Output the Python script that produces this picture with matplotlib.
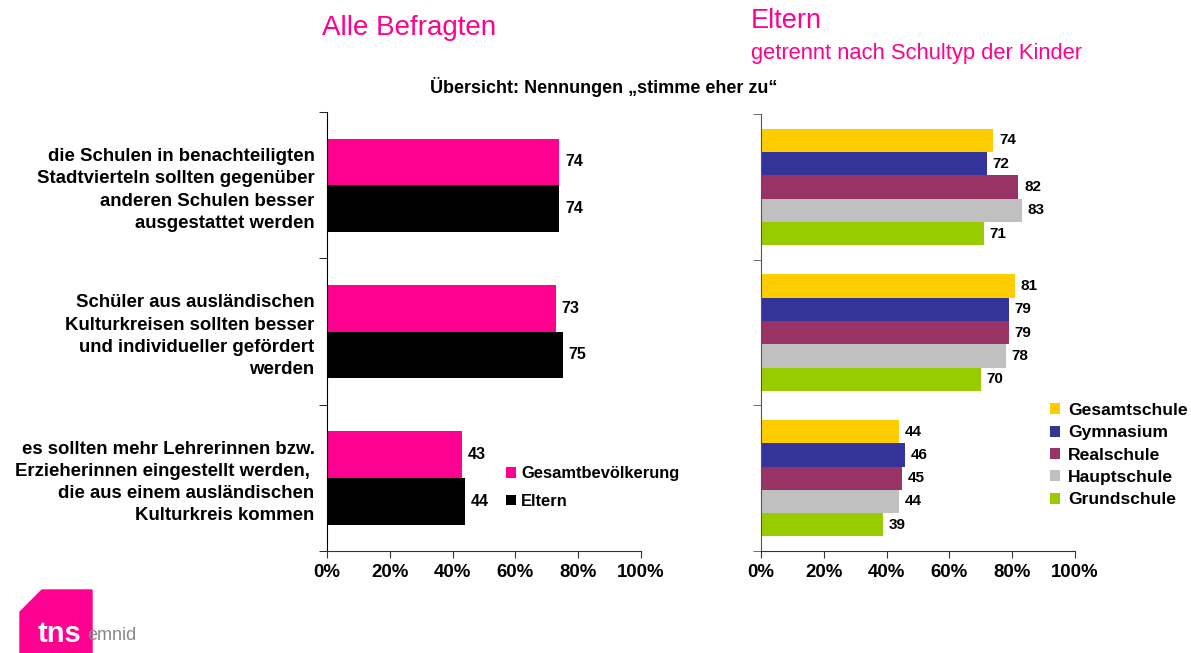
import matplotlib.pyplot as plt
import numpy as np
from matplotlib.patches import Polygon

plt.rcParams['font.family'] = ['Liberation Sans', 'DejaVu Sans']

statements = [
    "die Schulen in benachteiligten\nStadtvierteln sollten gegenüber\nanderen Schulen besser\nausgestattet werden",
    "Schüler aus ausländischen\nKulturkreisen sollten besser\nund individueller gefördert\nwerden",
    "es sollten mehr Lehrerinnen bzw.\nErzieherinnen eingestellt werden, \ndie aus einem ausländischen\nKulturkreis kommen",
]
left_series = ["Gesamtbevölkerung", "Eltern"]
gesamt = [74, 73, 43]
eltern = [74, 75, 44]

school_types = ["Gesamtschule", "Gymnasium", "Realschule", "Hauptschule", "Grundschule"]
gesamtschule = [74, 81, 44]
gymnasium = [72, 79, 46]
realschule = [82, 79, 45]
hauptschule = [83, 78, 44]
grundschule = [71, 70, 39]

xticks = [0, 20, 40, 60, 80, 100]
xticklabels = ["0%", "20%", "40%", "60%", "80%", "100%"]

pink = "#FF0090"
left_colors = [pink, "#000000"]
right_colors = ["#FFCC00", "#333399", "#993366", "#C0C0C0", "#99CC00"]

fig = plt.figure(figsize=(11.91, 6.53), dpi=100)
ax1 = fig.add_axes([0.2746, 0.1562, 0.2636, 0.672])
ax2 = fig.add_axes([0.639, 0.1562, 0.2636, 0.669])

centers = np.arange(len(statements)) + 0.5


def style_axis(ax, spine_color):
    ax.set_xlim(0, 100)
    ax.set_ylim(3, 0)
    for s in ["top", "right"]:
        ax.spines[s].set_visible(False)
    ax.spines["left"].set_color(spine_color)
    ax.spines["bottom"].set_color("#333333")
    ax.set_xticks(xticks)
    ax.set_xticklabels(xticklabels, fontsize=13.4, fontweight="bold")
    ax.tick_params(axis="x", length=5, pad=4, color="#333333")
    ax.set_yticks([0, 1, 2, 3], minor=True)
    ax.tick_params(axis="y", which="minor", length=6, color=spine_color)
    ax.set_yticks(centers)
    ax.tick_params(axis="y", which="major", length=0, pad=9)


# left panel
bh = 0.32
b1 = ax1.barh(centers - bh / 2, gesamt, bh, color=left_colors[0], label=left_series[0])
b2 = ax1.barh(centers + bh / 2, eltern, bh, color=left_colors[1], label=left_series[1])
style_axis(ax1, "#000000")
ax1.set_yticklabels(statements, fontsize=13.4, fontweight="bold", linespacing=1.40,
                    ha="right")
for bars in (b1, b2):
    for rect in bars:
        w = rect.get_width()
        ax1.annotate('{}'.format(int(w)),
                     xy=(w, rect.get_y() + rect.get_height() / 2),
                     xytext=(4, 0), textcoords="offset points",
                     ha="left", va="center", fontsize=11.5, fontweight="bold")
ax1.legend(loc="upper left", bbox_to_anchor=(0.524, 0.227), frameon=False,
           prop={"weight": "bold", "size": 11.9}, handlelength=0.6,
           handleheight=0.6, handletextpad=0.3, labelspacing=0.75)

# right panel
right_data = [gesamtschule, gymnasium, realschule, hauptschule, grundschule]
rh = 0.16
offsets = (np.arange(len(school_types)) - 2) * rh
all_bars = []
for vals, off, col, name in zip(right_data, offsets, right_colors, school_types):
    all_bars.append(ax2.barh(centers + off, vals, rh, color=col, label=name))
style_axis(ax2, "#555555")
ax2.set_yticklabels([])
for bars in all_bars:
    for rect in bars:
        w = rect.get_width()
        ax2.annotate('{}'.format(int(w)),
                     xy=(w, rect.get_y() + rect.get_height() / 2),
                     xytext=(4, 0), textcoords="offset points",
                     ha="left", va="center", fontsize=11, fontweight="bold")
ax2.legend(loc="upper left", bbox_to_anchor=(0.87, 0.375), frameon=False,
           prop={"weight": "bold", "size": 12.6}, handlelength=0.6,
           handleheight=0.6, handletextpad=0.45, labelspacing=0.42)

# titles
fig.text(322 / 1191, 1 - 28 / 653, "Alle Befragten", color=pink, fontsize=20,
         ha="left", va="center")
fig.text(751 / 1191, 1 - 21 / 653, "Eltern", color=pink, fontsize=19.5,
         ha="left", va="center")
fig.text(751 / 1191, 1 - 53 / 653, "getrennt nach Schultyp der Kinder", color=pink,
         fontsize=15.8, ha="left", va="center")
fig.text(604 / 1191, 1 - 87 / 653, "Übersicht: Nennungen „stimme eher zu“",
         fontsize=13, fontweight="bold", ha="center", va="center")

# logo
logo = Polygon([(20 / 1191, 1 - 653 / 653), (20 / 1191, 1 - 612 / 653),
                (42 / 1191, 1 - 590 / 653), (92 / 1191, 1 - 590 / 653),
                (92 / 1191, 1 - 653 / 653)],
               closed=True, transform=fig.transFigure, color=pink, zorder=0)
fig.patches.append(logo)
fig.text(38 / 1191, 1 - 634 / 653, "tns", color="white", fontsize=21,
         fontweight="bold", ha="left", va="center")
fig.text(87 / 1191, 1 - 636 / 653, "emnid", color="#888888", fontsize=13,
         ha="left", va="center")

fig.savefig("out.png", dpi=100)
